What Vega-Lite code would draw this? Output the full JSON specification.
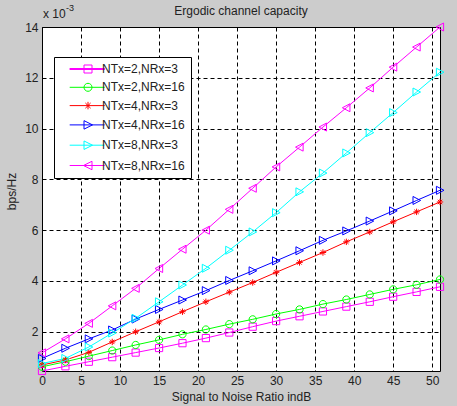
{
  "$schema": "https://vega.github.io/schema/vega-lite/v6.json",
  "width": 398,
  "height": 344,
  "autosize": {"type": "none"},
  "padding": {"left": 42, "top": 27, "right": 17, "bottom": 35},
  "background": "#cccccc",
  "title": {
    "text": "Ergodic channel capacity",
    "font": "Liberation Sans",
    "fontSize": 12,
    "fontWeight": "normal",
    "color": "#222222",
    "offset": 8,
    "dy": 22
  },
  "config": {
    "view": {"fill": "white", "stroke": "black", "strokeWidth": 1},
    "axis": {
      "labelFont": "Liberation Sans",
      "labelFontSize": 12,
      "labelColor": "#222222",
      "titleFont": "Liberation Sans",
      "titleFontSize": 12,
      "titleFontWeight": "normal",
      "titleColor": "#222222",
      "domain": false,
      "ticks": false,
      "grid": true,
      "gridColor": "black",
      "gridOpacity": 1,
      "gridWidth": 1,
      "gridDash": [4, 3]
    }
  },
  "data": {
    "values": [
      {"snr": 0, "cap": 0.000455, "cfg": "NTx=2,NRx=3"},
      {"snr": 3, "cap": 0.00064, "cfg": "NTx=2,NRx=3"},
      {"snr": 6, "cap": 0.00082, "cfg": "NTx=2,NRx=3"},
      {"snr": 9, "cap": 0.0010, "cfg": "NTx=2,NRx=3"},
      {"snr": 12, "cap": 0.00118, "cfg": "NTx=2,NRx=3"},
      {"snr": 15, "cap": 0.00136, "cfg": "NTx=2,NRx=3"},
      {"snr": 18, "cap": 0.00155, "cfg": "NTx=2,NRx=3"},
      {"snr": 21, "cap": 0.00175, "cfg": "NTx=2,NRx=3"},
      {"snr": 24, "cap": 0.00197, "cfg": "NTx=2,NRx=3"},
      {"snr": 27, "cap": 0.0022, "cfg": "NTx=2,NRx=3"},
      {"snr": 30, "cap": 0.00242, "cfg": "NTx=2,NRx=3"},
      {"snr": 33, "cap": 0.00261, "cfg": "NTx=2,NRx=3"},
      {"snr": 36, "cap": 0.0028, "cfg": "NTx=2,NRx=3"},
      {"snr": 39, "cap": 0.00299, "cfg": "NTx=2,NRx=3"},
      {"snr": 42, "cap": 0.00318, "cfg": "NTx=2,NRx=3"},
      {"snr": 45, "cap": 0.00338, "cfg": "NTx=2,NRx=3"},
      {"snr": 48, "cap": 0.00357, "cfg": "NTx=2,NRx=3"},
      {"snr": 51, "cap": 0.00377, "cfg": "NTx=2,NRx=3"},

      {"snr": 0, "cap": 0.00062, "cfg": "NTx=2,NRx=16"},
      {"snr": 3, "cap": 0.00082, "cfg": "NTx=2,NRx=16"},
      {"snr": 6, "cap": 0.00104, "cfg": "NTx=2,NRx=16"},
      {"snr": 9, "cap": 0.00126, "cfg": "NTx=2,NRx=16"},
      {"snr": 12, "cap": 0.00148, "cfg": "NTx=2,NRx=16"},
      {"snr": 15, "cap": 0.00168, "cfg": "NTx=2,NRx=16"},
      {"snr": 18, "cap": 0.0019, "cfg": "NTx=2,NRx=16"},
      {"snr": 21, "cap": 0.00209, "cfg": "NTx=2,NRx=16"},
      {"snr": 24, "cap": 0.0023, "cfg": "NTx=2,NRx=16"},
      {"snr": 27, "cap": 0.00249, "cfg": "NTx=2,NRx=16"},
      {"snr": 30, "cap": 0.0027, "cfg": "NTx=2,NRx=16"},
      {"snr": 33, "cap": 0.00288, "cfg": "NTx=2,NRx=16"},
      {"snr": 36, "cap": 0.00309, "cfg": "NTx=2,NRx=16"},
      {"snr": 39, "cap": 0.00327, "cfg": "NTx=2,NRx=16"},
      {"snr": 42, "cap": 0.00347, "cfg": "NTx=2,NRx=16"},
      {"snr": 45, "cap": 0.00367, "cfg": "NTx=2,NRx=16"},
      {"snr": 48, "cap": 0.00385, "cfg": "NTx=2,NRx=16"},
      {"snr": 51, "cap": 0.00406, "cfg": "NTx=2,NRx=16"},

      {"snr": 0, "cap": 0.00069, "cfg": "NTx=4,NRx=3"},
      {"snr": 3, "cap": 0.00089, "cfg": "NTx=4,NRx=3"},
      {"snr": 6, "cap": 0.00119, "cfg": "NTx=4,NRx=3"},
      {"snr": 9, "cap": 0.0016, "cfg": "NTx=4,NRx=3"},
      {"snr": 12, "cap": 0.0020, "cfg": "NTx=4,NRx=3"},
      {"snr": 15, "cap": 0.00239, "cfg": "NTx=4,NRx=3"},
      {"snr": 18, "cap": 0.00279, "cfg": "NTx=4,NRx=3"},
      {"snr": 21, "cap": 0.00318, "cfg": "NTx=4,NRx=3"},
      {"snr": 24, "cap": 0.00356, "cfg": "NTx=4,NRx=3"},
      {"snr": 27, "cap": 0.00394, "cfg": "NTx=4,NRx=3"},
      {"snr": 30, "cap": 0.00434, "cfg": "NTx=4,NRx=3"},
      {"snr": 33, "cap": 0.00473, "cfg": "NTx=4,NRx=3"},
      {"snr": 36, "cap": 0.00512, "cfg": "NTx=4,NRx=3"},
      {"snr": 39, "cap": 0.00554, "cfg": "NTx=4,NRx=3"},
      {"snr": 42, "cap": 0.00593, "cfg": "NTx=4,NRx=3"},
      {"snr": 45, "cap": 0.00633, "cfg": "NTx=4,NRx=3"},
      {"snr": 48, "cap": 0.00672, "cfg": "NTx=4,NRx=3"},
      {"snr": 51, "cap": 0.00711, "cfg": "NTx=4,NRx=3"},

      {"snr": 0, "cap": 0.00095, "cfg": "NTx=4,NRx=16"},
      {"snr": 3, "cap": 0.00135, "cfg": "NTx=4,NRx=16"},
      {"snr": 6, "cap": 0.00172, "cfg": "NTx=4,NRx=16"},
      {"snr": 9, "cap": 0.00207, "cfg": "NTx=4,NRx=16"},
      {"snr": 12, "cap": 0.0025, "cfg": "NTx=4,NRx=16"},
      {"snr": 15, "cap": 0.00288, "cfg": "NTx=4,NRx=16"},
      {"snr": 18, "cap": 0.00325, "cfg": "NTx=4,NRx=16"},
      {"snr": 21, "cap": 0.00362, "cfg": "NTx=4,NRx=16"},
      {"snr": 24, "cap": 0.00402, "cfg": "NTx=4,NRx=16"},
      {"snr": 27, "cap": 0.0044, "cfg": "NTx=4,NRx=16"},
      {"snr": 30, "cap": 0.00479, "cfg": "NTx=4,NRx=16"},
      {"snr": 33, "cap": 0.00519, "cfg": "NTx=4,NRx=16"},
      {"snr": 36, "cap": 0.0056, "cfg": "NTx=4,NRx=16"},
      {"snr": 39, "cap": 0.00597, "cfg": "NTx=4,NRx=16"},
      {"snr": 42, "cap": 0.00636, "cfg": "NTx=4,NRx=16"},
      {"snr": 45, "cap": 0.00676, "cfg": "NTx=4,NRx=16"},
      {"snr": 48, "cap": 0.00717, "cfg": "NTx=4,NRx=16"},
      {"snr": 51, "cap": 0.00757, "cfg": "NTx=4,NRx=16"},

      {"snr": 0, "cap": 0.00075, "cfg": "NTx=8,NRx=3"},
      {"snr": 3, "cap": 0.00095, "cfg": "NTx=8,NRx=3"},
      {"snr": 6, "cap": 0.0014, "cfg": "NTx=8,NRx=3"},
      {"snr": 9, "cap": 0.00195, "cfg": "NTx=8,NRx=3"},
      {"snr": 12, "cap": 0.00253, "cfg": "NTx=8,NRx=3"},
      {"snr": 15, "cap": 0.00318, "cfg": "NTx=8,NRx=3"},
      {"snr": 18, "cap": 0.00384, "cfg": "NTx=8,NRx=3"},
      {"snr": 21, "cap": 0.0045, "cfg": "NTx=8,NRx=3"},
      {"snr": 24, "cap": 0.00521, "cfg": "NTx=8,NRx=3"},
      {"snr": 27, "cap": 0.00593, "cfg": "NTx=8,NRx=3"},
      {"snr": 30, "cap": 0.00669, "cfg": "NTx=8,NRx=3"},
      {"snr": 33, "cap": 0.00751, "cfg": "NTx=8,NRx=3"},
      {"snr": 36, "cap": 0.00825, "cfg": "NTx=8,NRx=3"},
      {"snr": 39, "cap": 0.00904, "cfg": "NTx=8,NRx=3"},
      {"snr": 42, "cap": 0.00984, "cfg": "NTx=8,NRx=3"},
      {"snr": 45, "cap": 0.01063, "cfg": "NTx=8,NRx=3"},
      {"snr": 48, "cap": 0.01144, "cfg": "NTx=8,NRx=3"},
      {"snr": 51, "cap": 0.01222, "cfg": "NTx=8,NRx=3"},

      {"snr": 0, "cap": 0.00117, "cfg": "NTx=8,NRx=16"},
      {"snr": 3, "cap": 0.00172, "cfg": "NTx=8,NRx=16"},
      {"snr": 6, "cap": 0.00233, "cfg": "NTx=8,NRx=16"},
      {"snr": 9, "cap": 0.00302, "cfg": "NTx=8,NRx=16"},
      {"snr": 12, "cap": 0.00371, "cfg": "NTx=8,NRx=16"},
      {"snr": 15, "cap": 0.00449, "cfg": "NTx=8,NRx=16"},
      {"snr": 18, "cap": 0.00525, "cfg": "NTx=8,NRx=16"},
      {"snr": 21, "cap": 0.0060, "cfg": "NTx=8,NRx=16"},
      {"snr": 24, "cap": 0.00682, "cfg": "NTx=8,NRx=16"},
      {"snr": 27, "cap": 0.00765, "cfg": "NTx=8,NRx=16"},
      {"snr": 30, "cap": 0.00849, "cfg": "NTx=8,NRx=16"},
      {"snr": 33, "cap": 0.00927, "cfg": "NTx=8,NRx=16"},
      {"snr": 36, "cap": 0.01006, "cfg": "NTx=8,NRx=16"},
      {"snr": 39, "cap": 0.01082, "cfg": "NTx=8,NRx=16"},
      {"snr": 42, "cap": 0.0116, "cfg": "NTx=8,NRx=16"},
      {"snr": 45, "cap": 0.01242, "cfg": "NTx=8,NRx=16"},
      {"snr": 48, "cap": 0.01321, "cfg": "NTx=8,NRx=16"},
      {"snr": 51, "cap": 0.0140, "cfg": "NTx=8,NRx=16"}
    ]
  },
  "encoding": {
    "x": {
      "field": "snr",
      "type": "quantitative",
      "title": "Signal to Noise Ratio indB",
      "scale": {"domain": [0, 51], "nice": false, "zero": false},
      "axis": {
        "values": [0, 5, 10, 15, 20, 25, 30, 35, 40, 45, 50],
        "labelPadding": 4,
        "titlePadding": 5,
        "labelFlush": false
      }
    },
    "y": {
      "field": "cap",
      "type": "quantitative",
      "title": "bps/Hz",
      "scale": {"domain": [0.000455, 0.014], "nice": false, "zero": false},
      "axis": {
        "values": [0.002, 0.004, 0.006, 0.008, 0.010, 0.012, 0.014],
        "labelExpr": "format(datum.value * 1000, '.0f')",
        "labelPadding": 4,
        "titlePadding": 6,
        "titleY": 164,
        "labelFlush": false
      }
    },
    "color": {
      "field": "cfg",
      "type": "nominal",
      "title": null,
      "scale": {
        "domain": ["NTx=2,NRx=3", "NTx=2,NRx=16", "NTx=4,NRx=3", "NTx=4,NRx=16", "NTx=8,NRx=3", "NTx=8,NRx=16"],
        "range": ["#ff00ff", "#00ff00", "#ff0000", "#0000ff", "#00ffff", "#ff00ff"]
      },
      "legend": {
        "orient": "none",
        "legendX": 12,
        "legendY": 30,
        "fillColor": "white",
        "strokeColor": "black",
        "padding": 6,
        "symbolOffset": 14,
        "labelOffset": 16,
        "symbolSize": 100,
        "symbolStrokeWidth": 1,
        "symbolFillColor": "transparent",
        "labelFont": "Liberation Sans",
        "labelFontSize": 12,
        "labelColor": "#222222",
        "labelExpr": "datum.label + '\u00a0\u00a0'",
        "rowPadding": 6.3
      }
    }
  },
  "layer": [
    {
      "mark": {"type": "line", "strokeWidth": 1},
      "encoding": {"detail": {"field": "cfg"}}
    },
    {
      "transform": [{"filter": "datum.snr < 0"}],
      "mark": {"type": "point", "filled": false, "size": 100, "strokeWidth": 1, "opacity": 1},
      "encoding": {
        "shape": {
          "field": "cfg",
          "type": "nominal",
          "title": null,
          "scale": {
            "domain": ["NTx=2,NRx=3", "NTx=2,NRx=16", "NTx=4,NRx=3", "NTx=4,NRx=16", "NTx=8,NRx=3", "NTx=8,NRx=16"],
            "range": [
              "M-2.06,0H4.94M-2.06,0.1H4.94M-2.06,-0.1H4.94M0.8,-0.8H2.4V0.8H0.8Z",
              "M-2.06,0H4.94M0.8,0A0.8,0.8 0 1,0 2.4,0A0.8,0.8 0 1,0 0.8,0Z",
              "M-2.06,0H4.94M1.6,-0.75V0.75M1.08,-0.52L2.12,0.52M1.08,0.52L2.12,-0.52",
              "M-2.06,0H4.94M0.8,-0.85L2.5,0L0.8,0.85Z",
              "M-2.06,0H4.94M0.8,-0.85L2.5,0L0.8,0.85Z",
              "M-2.06,0H4.94M2.4,-0.85L0.7,0L2.4,0.85Z"
            ]
          }
        }
      }
    },
    {
      "mark": {"type": "point", "filled": false, "size": 64, "strokeWidth": 1, "opacity": 1},
      "encoding": {
        "shape": {
          "condition": [
            {"test": "datum.cfg === 'NTx=2,NRx=3'", "value": "M-0.9,-0.9H0.9V0.9H-0.9Z"},
            {"test": "datum.cfg === 'NTx=2,NRx=16'", "value": "M-0.9,0A0.9,0.9 0 1,0 0.9,0A0.9,0.9 0 1,0 -0.9,0Z"},
            {"test": "datum.cfg === 'NTx=4,NRx=3'", "value": "M-0.8,0H0.8M0,-0.8V0.8M-0.55,-0.55L0.55,0.55M-0.55,0.55L0.55,-0.55"},
            {"test": "datum.cfg === 'NTx=8,NRx=16'", "value": "M0.9,-1L-1,0L0.9,1Z"}
          ],
          "value": "M-0.9,-1L1,0L-0.9,1Z"
        }
      }
    },
    {
      "data": {"values": [{"snr": 0, "cap": 0.014, "mult": "x 10"}]},
      "mark": {"type": "text", "align": "left", "baseline": "alphabetic", "dx": 1, "dy": -9, "font": "Liberation Sans", "fontSize": 12},
      "encoding": {"text": {"field": "mult"}, "color": {"value": "#222222"}}
    },
    {
      "data": {"values": [{"snr": 0, "cap": 0.014, "exp": "-3"}]},
      "mark": {"type": "text", "align": "left", "baseline": "alphabetic", "dx": 24, "dy": -16, "font": "Liberation Sans", "fontSize": 9},
      "encoding": {"text": {"field": "exp"}, "color": {"value": "#222222"}}
    }
  ]
}
